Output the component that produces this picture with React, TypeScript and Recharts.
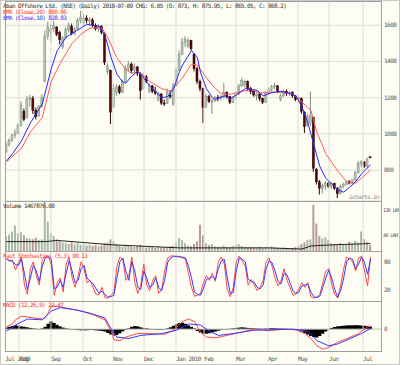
import React from "react";
import { ComposedChart, Bar, Line, XAxis, YAxis, CartesianGrid, ReferenceLine, Cell } from "recharts";

// one entry per bar (each bar ~ 2 trading days), Jul 2009 - 9 Jul 2010
const opens = [
  900, 940, 965, 990, 1005, 1045, 1125, 1090, 1190, 1195,
  1130, 1100, 1150, 1290, 1540, 1560, 1580, 1590, 1560, 1480,
  1530, 1575, 1595, 1555, 1580, 1625, 1615, 1640, 1625, 1630,
  1600, 1580, 1595, 1555, 1345, 1350, 1150, 1230, 1260, 1230,
  1290, 1360, 1385, 1350, 1370, 1330, 1250, 1315, 1235, 1265,
  1235, 1190, 1220, 1170, 1170, 1215, 1165, 1270, 1350, 1440,
  1505, 1485, 1515, 1440, 1360, 1290, 1250, 1150, 1205, 1175,
  1185, 1200, 1195, 1205, 1230, 1205, 1175, 1200, 1220, 1265,
  1270, 1290, 1250, 1235, 1210, 1220, 1195, 1175, 1225, 1245,
  1260, 1265, 1190, 1210, 1235, 1225, 1230, 1210, 1190, 1195,
  1120, 1045, 1060, 1090, 805, 735, 700, 715, 725, 710,
  725, 700, 670, 710, 722, 735, 728, 745, 785, 835,
  845, 820, 873,
];
const highs = [
  955, 975, 1000, 1025, 1060, 1180, 1140, 1210, 1215, 1210,
  1145, 1160, 1220, 1570, 1620, 1605, 1625, 1595, 1570, 1540,
  1590, 1615, 1610, 1590, 1640, 1680, 1660, 1655, 1645, 1640,
  1610, 1605, 1600, 1560, 1390, 1355, 1275, 1275, 1270, 1300,
  1380, 1400, 1395, 1390, 1375, 1340, 1335, 1325, 1280, 1270,
  1260, 1235, 1225, 1190, 1250, 1240, 1280, 1365, 1460, 1530,
  1540, 1530, 1520, 1445, 1370, 1300, 1255, 1220, 1215, 1195,
  1210, 1215, 1215, 1280, 1235, 1210, 1205, 1230, 1275, 1310,
  1300, 1295, 1260, 1245, 1230, 1225, 1200, 1235, 1255, 1270,
  1280, 1270, 1220, 1245, 1245, 1235, 1235, 1215, 1210, 1200,
  1125, 1110, 1235, 1095, 810, 745, 725, 740, 735, 735,
  730, 705, 720, 730, 740, 745, 750, 795, 850, 855,
  850, 870, 875.95,
];
const lows = [
  895, 930, 955, 975, 1000, 1040, 1070, 1085, 1150, 1110,
  1080, 1095, 1145, 1285, 1520, 1510, 1560, 1540, 1495, 1468,
  1525, 1560, 1545, 1545, 1575, 1610, 1600, 1610, 1600, 1590,
  1570, 1565, 1550, 1380, 1330, 1055, 1140, 1210, 1220, 1225,
  1285, 1345, 1335, 1340, 1320, 1190, 1245, 1280, 1225, 1225,
  1215, 1180, 1160, 1155, 1165, 1195, 1155, 1260, 1345, 1435,
  1480, 1475, 1460, 1345, 1275, 1235, 1060, 1140, 1170, 1110,
  1175, 1180, 1185, 1195, 1195, 1165, 1170, 1190, 1215, 1260,
  1255, 1235, 1220, 1205, 1185, 1180, 1165, 1170, 1215, 1235,
  1245, 1225, 1180, 1205, 1210, 1210, 1200, 1180, 1175, 1110,
  1005, 1040, 1045, 790, 720, 665, 670, 690, 700, 695,
  690, 645, 665, 700, 715, 720, 722, 740, 780, 815,
  810, 815, 865.05,
];
const closes = [
  940, 965, 990, 1005, 1045, 1160, 1080, 1190, 1200, 1130,
  1095, 1150, 1200, 1540, 1590, 1580, 1600, 1550, 1520, 1530,
  1575, 1600, 1555, 1580, 1625, 1645, 1640, 1625, 1630, 1600,
  1580, 1595, 1560, 1395, 1375, 1120, 1250, 1260, 1230, 1290,
  1360, 1385, 1350, 1370, 1335, 1240, 1315, 1290, 1265, 1235,
  1225, 1225, 1170, 1165, 1230, 1205, 1270, 1350, 1440, 1505,
  1520, 1515, 1470, 1360, 1290, 1250, 1145, 1205, 1180, 1185,
  1200, 1195, 1205, 1230, 1205, 1175, 1200, 1220, 1265, 1295,
  1290, 1250, 1235, 1215, 1220, 1195, 1175, 1225, 1245, 1260,
  1265, 1235, 1210, 1235, 1225, 1230, 1210, 1190, 1200, 1125,
  1040, 1095, 1100, 810, 735, 700, 715, 725, 710, 725,
  700, 670, 710, 722, 735, 728, 745, 785, 835, 845,
  820, 860, 868.2,
];
// volume in lakh shares
const volumes = [
  38, 42, 50, 65, 45, 48, 40, 33, 32, 30,
  34, 28, 30, 130, 75, 45, 38, 30, 25, 22,
  20, 18, 22, 17, 20, 16, 18, 14, 16, 13,
  15, 12, 14, 20, 22, 30, 25, 18, 15, 12,
  16, 14, 12, 10, 14, 16, 11, 9, 12, 10,
  8, 11, 9, 10, 8, 12, 14, 22, 33, 28,
  20, 14, 12, 18, 25, 67, 40, 20, 15, 18,
  12, 10, 11, 14, 10, 9, 12, 15, 18, 13,
  11, 9, 10, 8, 9, 11, 7, 10, 8, 12,
  10, 8, 7, 9, 8, 6, 8, 10, 14, 18,
  22, 28, 30, 118, 70, 38, 32, 35, 28, 20,
  18, 15, 21, 17, 16, 24, 20, 26, 22, 50,
  30, 24, 15,
];
const stochK = [
  88, 80, 84, 62, 78, 90, 30, 10, 65, 80,
  50, 30, 85, 92, 92, 75, 8, 35, 45, 15,
  75, 90, 45, 25, 50, 80, 65, 35, 40, 25,
  10, 10, 25, 3, 2, 8, 15, 70, 90, 85,
  40, 50, 90, 35, 12, 30, 75, 30, 18, 40,
  50, 12, 20, 60, 88, 92, 93, 90, 92, 88,
  85, 55, 25, 6, 8, 12, 35, 50, 40, 55,
  38, 80, 90, 75, 20, 5, 25, 80, 92, 82,
  70, 30, 42, 30, 18, 25, 40, 80, 88, 70,
  45, 28, 40, 65, 40, 25, 8, 12, 22, 35,
  25, 35, 5, 2, 4, 10, 35, 60, 65, 30,
  10, 2, 30, 65, 90, 85, 80, 60, 88, 92,
  60, 28, 90.13,
];
const stochD = [
  85, 83, 81, 74, 72, 86, 55, 20, 45, 72,
  60, 38, 70, 88, 90, 85, 22, 25, 40, 25,
  55, 82, 60, 35, 40, 65, 72, 45, 38, 33,
  22, 12, 17, 10, 4, 5, 8, 45, 80, 88,
  60, 40, 80, 60, 25, 20, 60, 45, 25, 30,
  45, 25, 18, 40, 78, 88, 91, 92, 90, 90,
  88, 70, 45, 15, 10, 8, 22, 42, 45, 48,
  42, 65, 82, 85, 45, 12, 14, 60, 88, 85,
  80, 42, 38, 36, 25, 22, 30, 65, 82, 78,
  60, 38, 32, 55, 52, 35, 18, 11, 15, 28,
  30, 32, 15, 5, 3, 6, 25, 45, 62, 45,
  20, 4, 18, 45, 80, 88, 85, 65, 75, 90,
  78, 53, 86,
];
const macdHist = [
  10, 15, 20, 25, 22, 18, 15, 12, 8, 5,
  3, 0, 5, 15, 35, 50, 40, 28, 18, 10,
  5, 2, -3, -5, -6, -8, -8, -7, -6, -6,
  -8, -10, -12, -15, -25, -35, -42, -38, -28, -15,
  -5, 5, 15, 20, 18, 12, 8, 5, 2, -2,
  -4, -5, -5, -3, 5, 12, 22, 32, 40, 42,
  35, 25, 15, 5, -12, -22, -30, -30, -27, -22,
  -16, -10, -6, -3, 0, 3, 5, 8, 10, 12,
  10, 8, 6, 5, 4, 3, 3, 4, 6, 7,
  6, 5, 4, 3, 2, 1, 0, -3, -8, -15,
  -25, -35, -45, -52, -55, -45, -30, -15, -2, 8,
  14, 18, 20, 22, 24, 25, 25, 26, 25, 24,
  22, 20, 16,
];

// smooth lines read at a few bars: [bar, value]
const ema10Pts = [
  [0, 850], [2, 890], [5, 960], [8, 1060], [12, 1165], [15, 1360], [17, 1460], [20, 1535],
  [23, 1565], [27, 1605], [31, 1595], [33, 1545], [35, 1425], [37, 1330], [39, 1285], [40, 1280],
  [42, 1320], [44, 1345], [45, 1330], [48, 1265], [52, 1200], [54, 1205], [56, 1250], [58, 1345],
  [59, 1380], [62, 1460], [64, 1420], [65, 1340], [67, 1250], [69, 1200], [70, 1190], [73, 1210],
  [75, 1195], [77, 1215], [80, 1250], [84, 1240], [86, 1210], [89, 1228], [92, 1235], [95, 1222],
  [97, 1210], [99, 1150], [101, 1060], [103, 940], [105, 820], [107, 755], [109, 722], [111, 690],
  [113, 678], [115, 705], [117, 735], [119, 780], [122, 828.83],
];
const ema20Pts = [
  [0, 845], [5, 920], [8, 1010], [12, 1090], [15, 1290], [18, 1390], [22, 1500], [25, 1550],
  [28, 1585], [32, 1585], [34, 1530], [37, 1420], [40, 1355], [42, 1335], [44, 1345], [45, 1335],
  [48, 1290], [52, 1250], [55, 1235], [59, 1310], [62, 1385], [64, 1380], [67, 1310], [70, 1250],
  [72, 1222], [75, 1218], [79, 1235], [82, 1245], [85, 1225], [89, 1232], [92, 1228], [96, 1220],
  [98, 1190], [102, 1130], [104, 1010], [107, 890], [111, 795], [114, 735], [117, 728], [119, 755],
  [122, 800.86],
];
const macdPts = [
  [0, 16], [2, 34], [3, 61], [5, 84], [7, 80], [9, 73], [12, 66], [13, 75], [14, 107], [15, 152],
  [17, 148], [21, 134], [25, 118], [29, 95], [33, 61], [34, 20], [35, -7], [36, -70], [38, -75],
  [40, -52], [44, -29], [48, -29], [53, -34], [56, -7], [59, 50], [61, 66], [63, 50], [65, -18],
  [67, -52], [70, -57], [74, -41], [79, -18], [83, 0], [88, -11], [93, 0], [97, -5], [100, -29],
  [102, -61], [104, -109], [106, -131], [108, -120], [111, -86], [114, -63], [118, -29], [121, 16],
  [122, 22.47],
];
const signalPts = [
  [0, -14], [3, 27], [7, 66], [12, 61], [15, 118], [18, 141], [23, 127], [28, 104], [33, 73],
  [35, 5], [37, -52], [41, -61], [45, -41], [52, -29], [57, -7], [61, 34], [65, 27], [68, -14],
  [71, -41], [76, -29], [83, -7], [96, 0], [101, -14], [104, -75], [108, -109], [111, -97],
  [115, -63], [119, -29], [122, 5],
];
const volAvgPts = [
  [0, 24], [13, 24], [17, 27], [35, 16], [58, 8], [88, 8], [99, 5], [102, 13], [110, 16], [122, 19],
];

const monthTicks = [-0.5, 4.2, 14.9, 25.6, 35.7, 46.1, 56.8, 66.2, 76.9, 87.6, 97.7, 108.1, 119.5];
const monthLabels = ["Jul 2009", "Aug", "Sep", "Oct", "Nov", "Dec", "Jan 2010", "Feb", "Mar", "Apr", "May", "Jun", "Jul"];
const priceTicks = [800, 1000, 1200, 1400, 1600];
const volTicks = [40, 80, 120];
const stochTicks = [20, 50, 80];

const N = closes.length;
const sparse = (pts: number[][]) => {
  const a: (number | null)[] = new Array(N).fill(null);
  pts.forEach(([i, v]) => (a[i] = v));
  return a;
};
const ema10 = sparse(ema10Pts);
const ema20 = sparse(ema20Pts);
const macdLine = sparse(macdPts);
const signalLine = sparse(signalPts);
const volAvg = sparse(volAvgPts);

const rows = closes.map((c, i) => ({
  i,
  open: opens[i],
  high: highs[i],
  low: lows[i],
  close: c,
  vol: volumes[i],
  volAvg: volAvg[i],
  k: stochK[i],
  d: stochD[i],
  hist: macdHist[i],
  macd: macdLine[i],
  signal: signalLine[i],
  ema10: ema10[i],
  ema20: ema20[i],
}));

const X_DOMAIN = [-0.5, 125.5];
const FONT = "'DejaVu Sans Mono', monospace";
const GRID = "#dcdcdc";
const BG = "#fdfdf4";
const margin = { top: 0, right: 0, bottom: 0, left: 4 };

const Candle = (props: any) => {
  const { x, y, width, height, payload } = props;
  if (!payload || payload.high == null) return null;
  const { open, close, high, low } = payload;
  const top = Math.min(y, y + height);
  const h = Math.abs(height);
  const ppu = h / (high - low || 1);
  const bodyTop = top + (high - Math.max(open, close)) * ppu;
  const bodyH = Math.max(1, Math.abs(open - close) * ppu);
  const up = close >= open;
  const cx = x + width / 2;
  return (
    <g>
      <line x1={cx} x2={cx} y1={top} y2={top + h} stroke={up ? "#7d907d" : "#2a0000"} strokeWidth={1} />
      <rect x={x} y={bodyTop} width={width} height={bodyH} fill={up ? "#b3c3b3" : "#5a0505"} stroke={up ? "#7d907d" : "#2a0000"} strokeWidth={0.5} />
    </g>
  );
};

// histogram columns drawn a touch wider so they join into a solid band
const HistBar = (props: any) => {
  const { x, y, width, height } = props;
  if (height == null || width == null) return null;
  const top = Math.min(y, y + height);
  return <rect x={x - 0.3} y={top} width={width + 0.6} height={Math.max(0.5, Math.abs(height))} fill="#000" />;
};

// right-hand axis labels as plain text so they never wrap
const rightTick = (suffix: string, size: number, spacing: number) => (props: any) => {
  const { x, y, payload } = props;
  return (
    <text x={x} y={y + 2} fontSize={size} fill="#555" fontFamily={FONT} letterSpacing={spacing} textAnchor="start">
      {`${payload.value}${suffix}`}
    </text>
  );
};

const MonthTick = (props: any) => {
  const { x, y, payload } = props;
  const idx = monthTicks.indexOf(payload.value);
  return (
    <text x={x} y={y + 9.5} fontSize={6} fill="#555" fontFamily={FONT} letterSpacing={-0.5} textAnchor="start">
      {monthLabels[idx]}
    </text>
  );
};

const monthLines = monthTicks.slice(1).map((t) => <ReferenceLine key={t} x={t} stroke={GRID} />);

const label = (text: string, left: number, top: number, color: string) => (
  <div
    style={{
      position: "absolute",
      left,
      top,
      fontFamily: FONT,
      fontSize: 6,
      letterSpacing: -0.6,
      lineHeight: "6px",
      color,
      whiteSpace: "pre",
    }}
  >
    {text}
  </div>
);

const panel = (top: number, height: number) => (
  <div
    style={{
      position: "absolute",
      left: 4,
      top,
      width: 377,
      height: height + 1,
      boxSizing: "border-box",
      border: "1px solid #a0a0a0",
    }}
  />
);

const App = () => {
  return (
    <div style={{ position: "absolute", left: 0, top: 0, width: 400, height: 365, background: BG, boxSizing: "border-box", border: "1px solid #c8c8c8", overflow: "hidden" }}>
      <div style={{ position: "absolute", left: 0, top: 0 }}>
        <ComposedChart width={400} height={200} data={rows} margin={margin}>
          <CartesianGrid vertical={false} stroke={GRID} />
          {monthLines}
          <XAxis type="number" dataKey="i" domain={X_DOMAIN} hide allowDataOverflow />
          <YAxis orientation="right" width={20} domain={[629, 1734]} ticks={priceTicks} allowDataOverflow tickLine={false} axisLine={false} tickSize={0} tickMargin={3} tick={rightTick("", 6, -0.5)} />
          <Bar dataKey={(d: any) => [d.low, d.high]} barSize={2} shape={<Candle />} isAnimationActive={false} />
          <Line dataKey="ema20" stroke="#ff5a5a" strokeWidth={1} dot={false} connectNulls isAnimationActive={false} />
          <Line dataKey="ema10" stroke="#2828ff" strokeWidth={1} dot={false} connectNulls isAnimationActive={false} />
        </ComposedChart>
      </div>
      <div style={{ position: "absolute", left: 0, top: 200 }}>
        <ComposedChart width={400} height={50} data={rows} margin={margin}>
          {monthLines}
          <XAxis type="number" dataKey="i" domain={X_DOMAIN} hide allowDataOverflow />
          <YAxis orientation="right" width={20} domain={[0, 128]} ticks={volTicks} allowDataOverflow tickLine={false} axisLine={false} tickSize={0} tickMargin={2} tick={rightTick(" LKH", 5, -0.6)} />
          <Bar dataKey="vol" barSize={2} isAnimationActive={false}>
            {rows.map((r) => (
              <Cell key={r.i} fill={r.close >= r.open ? "#a9b9a9" : "#b99a9a"} />
            ))}
          </Bar>
          <Line dataKey="volAvg" stroke="#222" strokeWidth={1} dot={false} connectNulls isAnimationActive={false} />
        </ComposedChart>
      </div>
      <div style={{ position: "absolute", left: 0, top: 250 }}>
        <ComposedChart width={400} height={50} data={rows} margin={margin}>
          {monthLines}
          <XAxis type="number" dataKey="i" domain={X_DOMAIN} hide allowDataOverflow />
          <YAxis orientation="right" width={20} domain={[-4.3, 103]} ticks={stochTicks} allowDataOverflow tickLine={false} axisLine={false} tickSize={0} tickMargin={3} tick={rightTick("", 6, -0.5)} />
          <Line dataKey="k" stroke="#ff4848" strokeWidth={1} dot={false} isAnimationActive={false} />
          <Line dataKey="d" stroke="#3a3aff" strokeWidth={1} dot={false} isAnimationActive={false} />
        </ComposedChart>
      </div>
      <div style={{ position: "absolute", left: 0, top: 300 }}>
        <ComposedChart width={400} height={65} data={rows} margin={margin}>
          {monthLines}
          <ReferenceLine y={0} stroke="#c0c0c0" />
          <XAxis type="number" dataKey="i" domain={X_DOMAIN} ticks={monthTicks} interval={0} height={15} tickLine={false} axisLine={false} tickSize={0} tickMargin={0} tick={<MonthTick />} allowDataOverflow />
          <YAxis orientation="right" width={20} domain={[-143, 184]} ticks={[0]} allowDataOverflow tickLine={false} axisLine={false} tickSize={0} tickMargin={3} tick={rightTick("", 6, -0.5)} />
          <Bar dataKey="hist" barSize={3} fill="#000" shape={<HistBar />} isAnimationActive={false} />
          <Line dataKey="macd" stroke="#ff4848" strokeWidth={1} dot={false} connectNulls isAnimationActive={false} />
          <Line dataKey="signal" stroke="#3a3aff" strokeWidth={1} dot={false} connectNulls isAnimationActive={false} />
        </ComposedChart>
      </div>
      {panel(0, 200)}
      {panel(200, 50)}
      {panel(250, 50)}
      {panel(300, 50)}
      {label("Aban Offshore Ltd. (NSE) (Daily) 2010-07-09 CHG: 6.05 (O: 873, H: 875.95, L: 865.05, C: 868.2)", 2, 2, "#333")}
      {label("EMA (Close,20) 800.86", 2, 8, "#ff3030")}
      {label("EMA (Close,10) 828.83", 2, 14, "#3030ff")}
      {label("icharts.in", 348, 193, "#8a8a8a")}
      {label("Volume 1467876.00", 2, 202, "#333")}
      {label("Fast Stochastics (5,3) 90.13", 2, 252, "#ff3030")}
      {label("MACD (12,26,9) 22.47", 2, 301, "#ff3030")}
    </div>
  );
};

export default App;
